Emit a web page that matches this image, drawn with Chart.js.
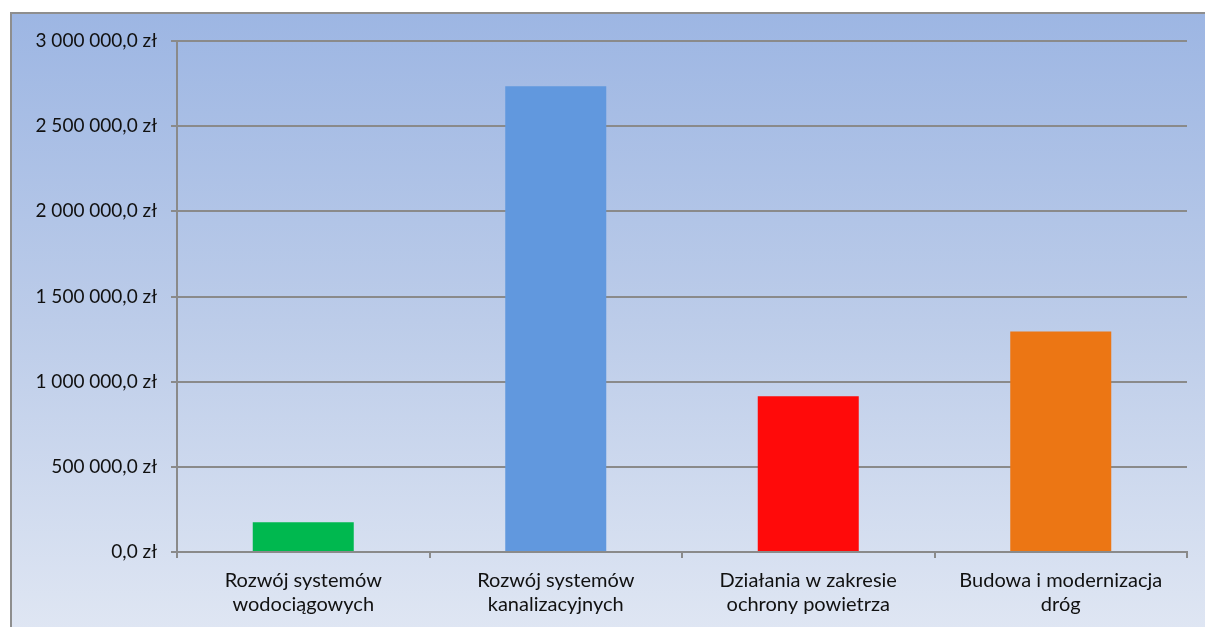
<!DOCTYPE html>
<html>
<head>
<meta charset="utf-8">
<script src="https://cdn.jsdelivr.net/npm/chart.js@4/dist/chart.umd.min.js"></script>
<style>
  html, body { margin: 0; padding: 0; background: #fff; }
  #frame {
    position: absolute; left: 10px; top: 12px;
    width: 1195px; height: 615px;
    border-left: 2px solid #8e8e8e; border-top: 2px solid #8e8e8e;
    background: linear-gradient(to bottom, #9db6e3 0%, #bccce9 50%, #dfe6f3 100%);
  }
  #chart { display: block; }
</style>
</head>
<body>
<div id="frame"><canvas id="chart" width="1193" height="613"></canvas></div>
<script>
const categories = [
    ['Rozwój systemów', 'wodociągowych'],
    ['Rozwój systemów', 'kanalizacyjnych'],
    ['Działania w zakresie', 'ochrony powietrza'],
    ['Budowa i modernizacja', 'dróg']
];
const amounts = [175000, 2735000, 915000, 1295000];
const barColors = ['#00b84f', '#6198de', '#ff0a0a', '#ec7614'];
const yTicks = [0, 500000, 1000000, 1500000, 2000000, 2500000, 3000000];

function formatZl(v) {
    const s = String(Math.round(v)).replace(/\B(?=(\d{3})+(?!\d))/g, ' ');
    return s + ',0 zł';
}

const ctx = document.getElementById('chart').getContext('2d');
window.budgetChart = new Chart(ctx, {
    type: 'bar',
    data: {
        labels: categories,
        datasets: [{
            data: amounts,
            backgroundColor: barColors,
            borderWidth: 0,
            barPercentage: 0.4,
            categoryPercentage: 1
        }]
    },
    options: {
        responsive: false,
        animation: false,
        layout: { padding: { top: 27, right: 18, bottom: 0, left: 0 } },
        plugins: {
            legend: { display: false },
            tooltip: { enabled: false }
        },
        scales: {
            x: {
                grid: {
                    offset: true,
                    drawOnChartArea: false,
                    drawTicks: true,
                    tickLength: 6,
                    color: '#8a8a8a',
                    lineWidth: 2
                },
                border: { color: '#8a8a8a', width: 2 },
                ticks: {
                    color: '#111',
                    font: { family: 'Lato', size: 20, lineHeight: 1.22 },
                    padding: 10,
                    maxRotation: 0
                },
                afterFit: function(scale) { scale.height = 75; }
            },
            y: {
                min: 0,
                max: 3000000,
                afterBuildTicks: function(scale) {
                    scale.ticks = yTicks.map(v => ({ value: v }));
                },
                grid: {
                    color: '#8a8a8a',
                    lineWidth: 2,
                    tickLength: 6
                },
                border: { color: '#8a8a8a', width: 2 },
                ticks: {
                    color: '#111',
                    font: { family: 'Lato', size: 19 },
                    padding: 14,
                    callback: function(value) { return formatZl(value); }
                },
                afterFit: function(scale) { scale.width = 165; }
            }
        }
    }
});
</script>
</body>
</html>
